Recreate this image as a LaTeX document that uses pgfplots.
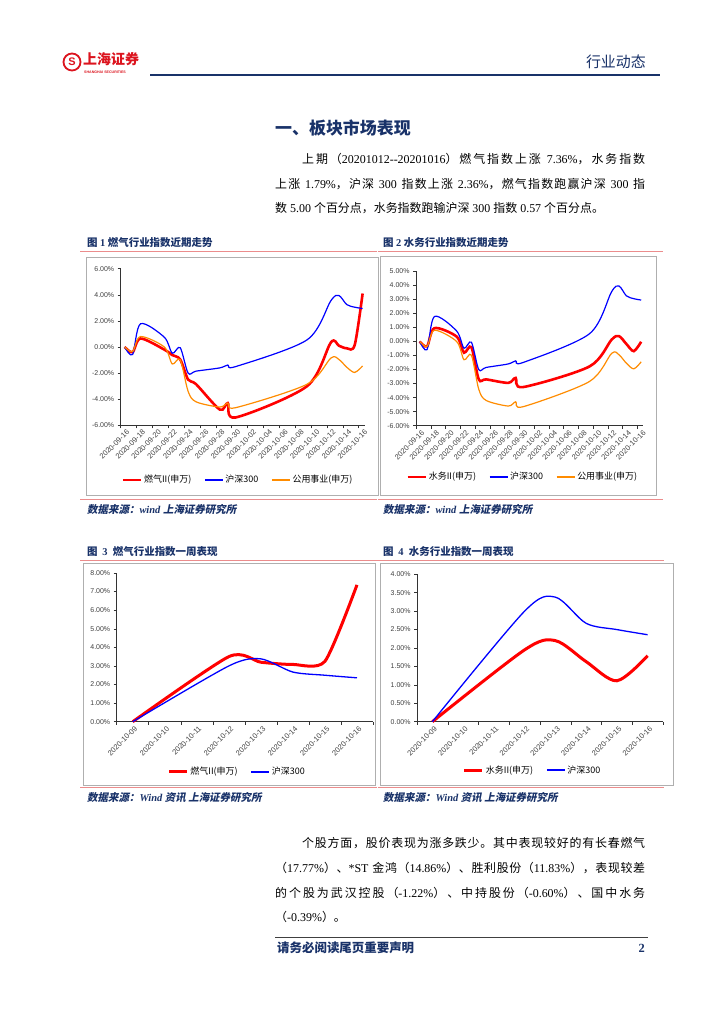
\documentclass[border=0pt]{standalone}
\usepackage{fontspec}
\setmainfont{Liberation Serif}
\newfontfamily\cjk{Noto Sans CJK SC}
\newfontfamily\cjksl[FakeSlant=0.2]{Noto Sans CJK SC}
\newfontfamily\arial{Liberation Sans}
\usepackage{pgfplots}
\pgfplotsset{compat=1.18}
\usepackage{pgfplotstable}
% stretchable glue between CJK characters (for justified lines)
\count255="4E00
\loop\ifnum\count255<"A000 \XeTeXcharclass\count255=1 \advance\count255 by 1 \repeat
\XeTeXcharclass"FF08=2
\XeTeXcharclass"FF09=3
\XeTeXcharclass"3001=3
\XeTeXcharclass"3002=3
\XeTeXcharclass"FF0C=3
\XeTeXcharclass"FF1A=3
\XeTeXinterchartokenstate=1
\XeTeXinterchartoks 1 1 = {\hskip0pt plus 1pt\relax}
\XeTeXinterchartoks 1 2 = {\hskip0pt plus 1pt\relax}
\XeTeXinterchartoks 2 1 = {\hskip0pt plus 1pt\relax}
\XeTeXinterchartoks 1 3 = {\hskip0pt plus 1pt\relax}
\XeTeXinterchartoks 3 1 = {\hskip0pt plus 1pt\relax}
\XeTeXinterchartoks 3 2 = {\hskip0pt plus 1pt\relax}
\XeTeXinterchartoks 3 3 = {\hskip0pt plus 1pt\relax}
\definecolor{navy}{RGB}{25,50,105}
\definecolor{pinkl}{RGB}{235,140,140}
\definecolor{frameg}{RGB}{175,175,175}
\definecolor{sred}{RGB}{255,0,0}
\definecolor{sblue}{RGB}{0,0,255}
\definecolor{sorange}{RGB}{255,140,0}
\definecolor{logored}{RGB}{220,20,30}
\newcommand\zh[1]{{\cjk #1}}

\pgfplotstableread{
d  hs     gas    water  util
0  0      0      0      0
1  -0.58  -0.40  -0.35  -0.35
2  1.78   0.65   0.95   0.80
5  0.75   -0.20  0.35   0.00
6  -0.48  -0.62  -0.80  -1.30
7  -0.05  -0.95  -0.40  -0.97
8  -2.00  -2.50  -2.70  -3.40
9  -1.85  -2.85  -2.70  -4.20
12 -1.60  -4.80  -2.95  -4.60
13 -1.38  -4.30  -2.60  -4.30
14 -1.50  -5.40  -3.25  -4.65
23 0.55   -3.00  -1.78  -2.85
26 3.55   0.35   0.13   -0.85
27 3.95   0.10   0.38   -0.95
28 3.25   -0.10  -0.18  -1.55
29 3.05   0.15   -0.69  -1.95
30 2.95   4.10   -0.02  -1.45
}\monthdata

\pgfplotstableread{
d  gas   water  hs
0  0     0      0
3  3.50  1.95   3.00
4  3.20  2.20   3.38
5  3.08  1.63   2.67
6  3.25  1.11   2.50
7  7.36  1.79   2.36
}\weekdata

\pgfplotsset{
  legend image code/.code={\draw[#1] (0bp,0bp) -- (18bp,0bp);},
  myaxis/.style={
    scale only axis, anchor=south west, clip=false,
    axis lines*=left, tick align=outside,
    axis line style={black!80, line width=0.6bp},
    major tick length=0pt, minor tick length=3bp,
    minor tick style={black!80, line width=0.5bp},
    tick label style={font=\arial\fontsize{7}{8}\selectfont, text=black!75},
    /pgf/number format/assume math mode=true,
    yticklabel={\pgfmathprintnumber[fixed,fixed zerofill,precision=2]{\tick}\%},
    yticklabel style={xshift=-3bp},
    x tick label style={rotate=45, anchor=north east, inner sep=1.5bp, yshift=-2bp, font=\arial\fontsize{7.5}{8}\selectfont},
    legend style={draw=none, fill=none, legend columns=-1, anchor=center,
      font=\cjk\fontsize{9}{10}\selectfont, inner sep=0pt,
      /tikz/every even column/.append style={column sep=11bp}},
  }
}

\begin{document}
\begin{tikzpicture}
\path[use as bounding box, fill=white] (0,0) rectangle (724bp,1024bp);

% ---------- header ----------
\draw[logored, line width=1.8bp] (72bp,962bp) circle (8.5bp);
\node[text=logored, font=\arial\bfseries\fontsize{11}{11}\selectfont, inner sep=0] at (72bp,962bp) {S};
\node[anchor=west, text=logored, font=\cjk\bfseries\fontsize{14}{14}\selectfont, inner sep=0] at (83bp,965bp) {上海证券};
\node[anchor=west, text=logored, font=\arial\bfseries\fontsize{3.6}{4}\selectfont, inner sep=0] at (84bp,952bp) {SHANGHAI SECURITIES};
\node[anchor=east, text=navy, font=\cjk\fontsize{15}{15}\selectfont, inner sep=0] at (646bp,962bp) {行业动态};
\draw[navy, line width=2.2bp] (150bp,949bp) -- (660bp,949bp);

% ---------- heading and paragraph ----------
\node[anchor=west, inner sep=0, text=navy, font=\cjk\bfseries\fontsize{17}{17}\selectfont] at (275bp,896bp) {一、板块市场表现};
\begin{scope}[every node/.style={anchor=west, inner sep=0, font=\fontsize{12}{14}\selectfont}]
\node at (302bp,865bp) {\makebox[343bp][s]{\zh{上期（}20201012-{}-20201016\zh{）燃气指数上涨} 7.36\%\zh{，水务指数}}};
\node at (275bp,840bp) {\makebox[370bp][s]{\zh{上涨} 1.79\%\zh{，沪深} 300 \zh{指数上涨} 2.36\%\zh{，燃气指数跑赢沪深} 300 \zh{指}}};
\node at (275bp,816bp) {\zh{数} 5.00 \zh{个百分点，水务指数跑输沪深} 300 \zh{指数} 0.57 \zh{个百分点。}};
\end{scope}

% ---------- chart frames, titles, sources ----------
\begin{scope}[every node/.style={anchor=west, inner sep=0, text=navy, font=\fontsize{10.5}{12}\selectfont}]
\node at (87bp,781bp) {{\cjk\bfseries 图 }{\bfseries 1 }{\cjk\bfseries 燃气行业指数近期走势}};
\node at (383bp,781bp) {{\cjk\bfseries 图 }{\bfseries 2 }{\cjk\bfseries 水务行业指数近期走势}};
\node at (87bp,514bp) {{\cjksl\bfseries 数据来源：}{\bfseries\itshape wind }{\cjksl\bfseries 上海证券研究所}};
\node at (383bp,514bp) {{\cjksl\bfseries 数据来源：}{\bfseries\itshape wind }{\cjksl\bfseries 上海证券研究所}};
\node at (87bp,472bp) {{\cjk\bfseries 图\ \ }{\bfseries 3\ \ }{\cjk\bfseries 燃气行业指数一周表现}};
\node at (383bp,472bp) {{\cjk\bfseries 图\ \ }{\bfseries 4\ \ }{\cjk\bfseries 水务行业指数一周表现}};
\node at (87bp,226bp) {{\cjksl\bfseries 数据来源：}{\bfseries\itshape Wind }{\cjksl\bfseries 资讯 上海证券研究所}};
\node at (383bp,226bp) {{\cjksl\bfseries 数据来源：}{\bfseries\itshape Wind }{\cjksl\bfseries 资讯 上海证券研究所}};
\end{scope}
\draw[pinkl, line width=1bp] (80bp,772bp) -- (377bp,772bp);
\draw[pinkl, line width=1bp] (378bp,772bp) -- (663bp,772bp);
\draw[pinkl, line width=1bp] (80bp,524bp) -- (377bp,524bp);
\draw[pinkl, line width=1bp] (378bp,524bp) -- (663bp,524bp);
\draw[pinkl, line width=1bp] (80bp,463bp) -- (380bp,463bp);
\draw[pinkl, line width=1bp] (378bp,463bp) -- (664bp,463bp);
\draw[pinkl, line width=1bp] (80bp,236bp) -- (377bp,236bp);
\draw[pinkl, line width=1bp] (378bp,236bp) -- (664bp,236bp);
\draw[frameg, line width=0.8bp] (86bp,767bp) rectangle (378bp,529bp);
\draw[frameg, line width=0.8bp] (380bp,767.5bp) rectangle (656bp,529bp);
\draw[frameg, line width=0.8bp] (83bp,460.5bp) rectangle (375bp,239bp);
\draw[frameg, line width=0.8bp] (380bp,460.5bp) rectangle (673bp,239bp);

% ---------- chart 1 ----------
\begin{axis}[myaxis, at={(120.7bp,598.7bp)}, width=244.3bp, height=156.6bp,
  xmin=-0.5, xmax=30.3, ymin=-6, ymax=6,
  ytick={-6,-4,...,6}, minor ytick={-6,-4,...,6},
  xtick={0,2,...,30}, minor xtick={-0.5,1.5,...,29.5},
  xticklabels={2020-09-16,2020-09-18,2020-09-20,2020-09-22,2020-09-24,2020-09-26,2020-09-28,2020-09-30,2020-10-02,2020-10-04,2020-10-06,2020-10-08,2020-10-10,2020-10-12,2020-10-14,2020-10-16},
  legend style={at={(0.48,-0.349)}}]
\addplot[sred, line width=2.6bp, smooth] table[x=d,y=gas]{\monthdata};
\addplot[sblue, line width=1.2bp, smooth] table[x=d,y=hs]{\monthdata};
\addplot[sorange, line width=1.2bp, smooth] table[x=d,y=util]{\monthdata};
\legend{燃气II(申万),沪深300,公用事业(申万)}
\end{axis}

% ---------- chart 2 ----------
\begin{axis}[myaxis, at={(416bp,598.3bp)}, width=227bp, height=154.4bp,
  xmin=-0.5, xmax=30.25, ymin=-6, ymax=5,
  ytick={-6,-5,...,5}, minor ytick={-6,-5,...,5},
  xtick={0,2,...,30}, minor xtick={-0.5,1.5,...,29.5},
  xticklabels={2020-09-16,2020-09-18,2020-09-20,2020-09-22,2020-09-24,2020-09-26,2020-09-28,2020-09-30,2020-10-02,2020-10-04,2020-10-06,2020-10-08,2020-10-10,2020-10-12,2020-10-14,2020-10-16},
  legend style={at={(0.47,-0.332)}}]
\addplot[sred, line width=2.6bp, smooth] table[x=d,y=water]{\monthdata};
\addplot[sblue, line width=1.2bp, smooth] table[x=d,y=hs]{\monthdata};
\addplot[sorange, line width=1.2bp, smooth] table[x=d,y=util]{\monthdata};
\legend{水务II(申万),沪深300,公用事业(申万)}
\end{axis}

% ---------- chart 3 ----------
\begin{axis}[myaxis, at={(116.7bp,302.3bp)}, width=256.3bp, height=148.7bp,
  xmin=-0.5, xmax=7.5, ymin=0, ymax=8,
  ytick={0,1,...,8}, minor ytick={0,1,...,8},
  xtick={0,1,...,7}, minor xtick={-0.5,0.5,...,7.5},
  xticklabels={2020-10-09,2020-10-10,2020-10-11,2020-10-12,2020-10-13,2020-10-14,2020-10-15,2020-10-16},
  legend style={at={(0.47,-0.338)}}]
\addplot[sred, line width=3bp, smooth, tension=0.4] table[x=d,y=gas]{\weekdata};
\addplot[sblue, line width=1.3bp, smooth, tension=0.45] table[x=d,y=hs]{\weekdata};
\legend{燃气II(申万),沪深300}
\end{axis}

% ---------- chart 4 ----------
\begin{axis}[myaxis, at={(417bp,302.3bp)}, width=246bp, height=147.4bp,
  xmin=-0.5, xmax=7.5, ymin=0, ymax=4,
  ytick={0,0.5,...,4}, minor ytick={0,0.5,...,4},
  xtick={0,1,...,7}, minor xtick={-0.5,0.5,...,7.5},
  xticklabels={2020-10-09,2020-10-10,2020-10-11,2020-10-12,2020-10-13,2020-10-14,2020-10-15,2020-10-16},
  legend style={at={(0.47,-0.328)}}]
\addplot[sred, line width=3bp, smooth, tension=0.5] table[x=d,y=water]{\weekdata};
\addplot[sblue, line width=1.3bp, smooth, tension=0.5] table[x=d,y=hs]{\weekdata};
\legend{水务II(申万),沪深300}
\end{axis}

% ---------- paragraph 2 and footer ----------
\begin{scope}[every node/.style={anchor=west, inner sep=0, font=\fontsize{12}{14}\selectfont}]
\node at (302bp,181bp) {\makebox[343bp][s]{\zh{个股方面，股价表现为涨多跌少。其中表现较好的有长春燃气}}};
\node at (275bp,156bp) {\makebox[370bp][s]{\zh{（}17.77\%\zh{）、}*ST \zh{金鸿（}14.86\%\zh{）、胜利股份（}11.83\%\zh{），表现较差}}};
\node at (275bp,131bp) {\makebox[370bp][s]{\zh{的个股为武汉控股（}-1.22\%\zh{）、中持股份（}-0.60\%\zh{）、国中水务}}};
\node at (275bp,107bp) {\zh{（}-0.39\%\zh{）。}};
\end{scope}
\draw[black!75, line width=0.8bp] (275bp,87bp) -- (648bp,87bp);
\node[anchor=west, inner sep=0, text=navy, font=\cjk\bfseries\fontsize{12.5}{13}\selectfont] at (277bp,76bp) {请务必阅读尾页重要声明};
\node[anchor=east, inner sep=0, text=navy, font=\bfseries\fontsize{12.5}{13}\selectfont] at (645bp,76bp) {2};
\end{tikzpicture}
\end{document}
